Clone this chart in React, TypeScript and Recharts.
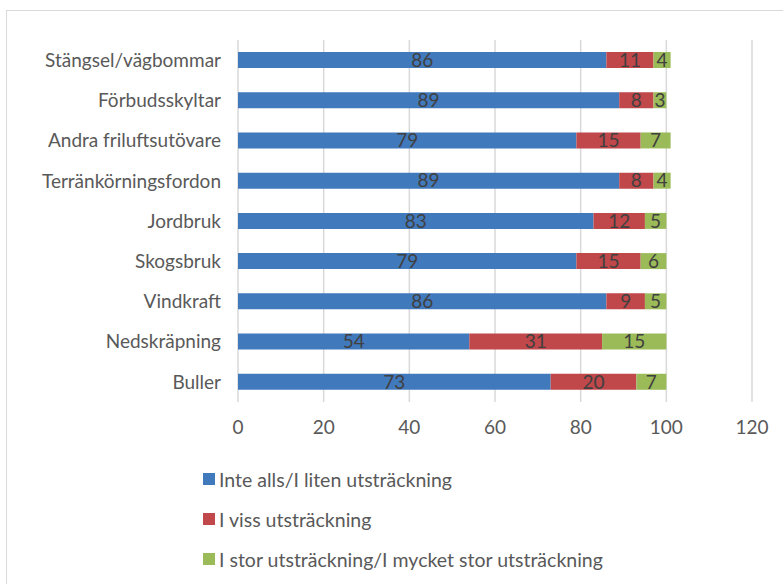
import { BarChart, Bar, XAxis, YAxis, CartesianGrid, LabelList } from "recharts";

const categories = [
  "Stängsel/vägbommar",
  "Förbudsskyltar",
  "Andra friluftsutövare",
  "Terränkörningsfordon",
  "Jordbruk",
  "Skogsbruk",
  "Vindkraft",
  "Nedskräpning",
  "Buller",
];
const notAtAll = [86, 89, 79, 89, 83, 79, 86, 54, 73];
const someExtent = [11, 8, 15, 8, 12, 15, 9, 31, 20];
const largeExtent = [4, 3, 7, 4, 5, 6, 5, 15, 7];
const xTicks = [0, 20, 40, 60, 80, 100, 120];

const seriesNames = [
  "Inte alls/I liten utsträckning",
  "I viss utsträckning",
  "I stor utsträckning/I mycket stor utsträckning",
];
const colors = ["#4179BD", "#C0474A", "#9BBB59"];

const font = "Lato, 'Open Sans', sans-serif";
const textColor = "#595959";

const chartData = categories.map((name, i) => ({
  name,
  a: notAtAll[i],
  b: someExtent[i],
  c: largeExtent[i],
}));

function LegendBox() {
  return (
    <div style={{ fontFamily: font, fontSize: 19.5, color: textColor }}>
      {seriesNames.map((n, i) => (
        <div key={n} style={{ display: "flex", alignItems: "center", height: 40 }}>
          <span
            style={{
              display: "inline-block",
              width: 12,
              height: 12,
              background: colors[i],
              marginRight: 4,
            }}
          />
          {n}
        </div>
      ))}
    </div>
  );
}

export default function App() {
  const keys = ["a", "b", "c"];
  return (
    <div
      style={{
        position: "absolute",
        left: 0,
        top: 0,
        width: 783,
        height: 584,
        overflow: "hidden",
        background: "#fff",
      }}
    >
      <div
        style={{
          position: "absolute",
          left: 6,
          top: 10,
          width: 820,
          height: 620,
          border: "1px solid #d9d9d9",
        }}
      />
      <div style={{ position: "absolute", left: 0, top: 0 }}>
        <BarChart
          width={783}
          height={584}
          data={chartData}
          layout="vertical"
          margin={{ top: 40, right: 31, left: 0, bottom: 142 }}
          barSize={16}
        >
          <CartesianGrid horizontal={false} stroke="#d9d9d9" strokeWidth={1.5} />
          <XAxis
            type="number"
            domain={[0, 120]}
            ticks={xTicks}
            axisLine={false}
            tickLine={false}
            tickSize={0}
            tickMargin={19}
            tick={{ fill: textColor, fontSize: 19, fontFamily: font }}
            height={40}
          />
          <YAxis
            type="category"
            dataKey="name"
            width={238}
            axisLine={false}
            tickLine={false}
            tickSize={0}
            tickMargin={17}
            tick={{ fill: textColor, fontSize: 19, fontFamily: font }}
            interval={0}
          />
          {keys.map((k, i) => (
            <Bar
              key={k}
              dataKey={k}
              stackId="s"
              fill={colors[i]}
              name={seriesNames[i]}
              isAnimationActive={false}
            >
              <LabelList
                dataKey={k}
                position="center"
                fill="#404040"
                fontSize={19}
                fontFamily={font}
              />
            </Bar>
          ))}
        </BarChart>
      </div>
      <div style={{ position: "absolute", left: 203, top: 459 }}>
        <LegendBox />
      </div>
    </div>
  );
}
